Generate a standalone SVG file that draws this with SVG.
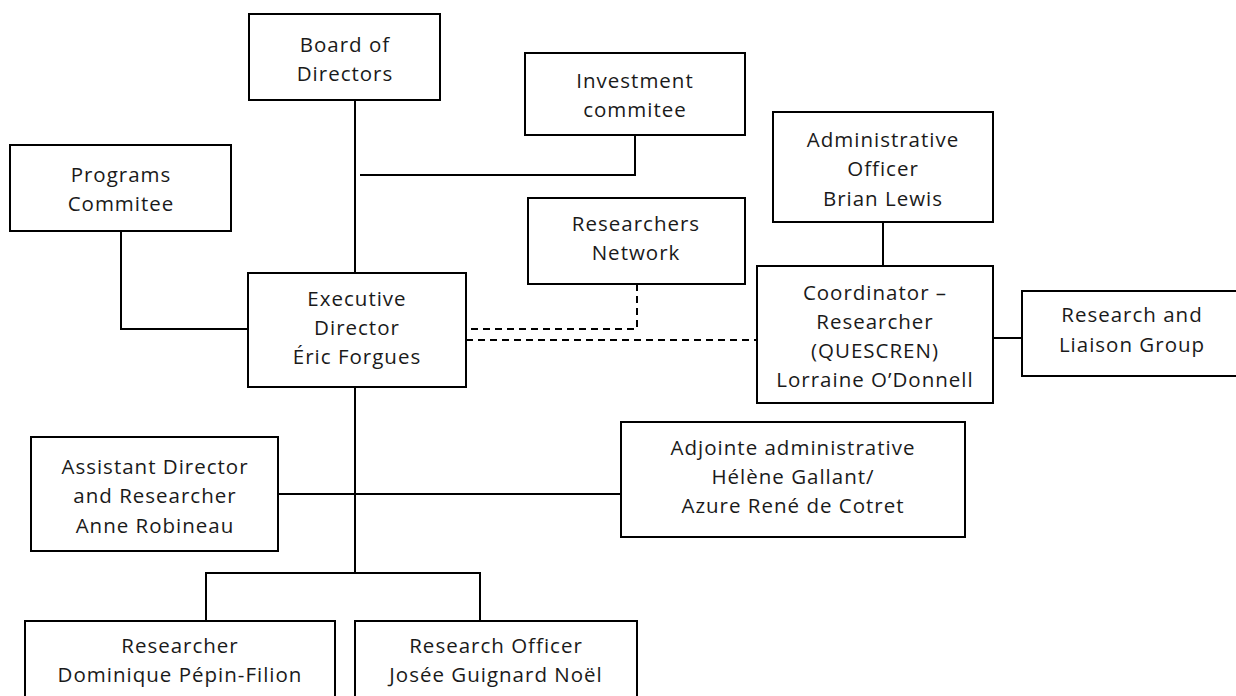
<svg xmlns="http://www.w3.org/2000/svg" width="1236" height="696" viewBox="0 0 1236 696">
<style>
.box{fill:#fff;stroke:#000;stroke-width:2}
.t{font-family:"Open Sans","Liberation Sans",sans-serif;font-size:20.5px;letter-spacing:1px;fill:#1a1a1a;text-anchor:middle}
.c{fill:none;stroke:#000;stroke-width:2}
.d{fill:none;stroke:#000;stroke-width:2;stroke-dasharray:7,5}
</style>
<rect width="1236" height="696" fill="#fff"/>
<g id="connectors">
<path class="c" d="M355,100 V273"/>
<path class="c" d="M635,135 V175 H360"/>
<path class="c" d="M121,231 V329 H248"/>
<path class="d" d="M637,284 V329 H466"/>
<path class="d" d="M466,340 H757"/>
<path class="c" d="M883,222 V266"/>
<path class="c" d="M993,338 H1022"/>
<path class="c" d="M355,387 V573"/>
<path class="c" d="M278,494 H621"/>
<path class="c" d="M206,621 V573 H480 V621"/>
</g>
<g id="board"><rect class="box" x="249" y="14" width="191" height="86"/><text class="t" x="345" y="52">Board of</text><text class="t" x="345" y="81">Directors</text></g>
<g id="investment"><rect class="box" x="525" y="53" width="220" height="82"/><text class="t" x="635" y="88">Investment</text><text class="t" x="635" y="117">commitee</text></g>
<g id="programs"><rect class="box" x="10" y="145" width="221" height="86"/><text class="t" x="121" y="182">Programs</text><text class="t" x="121" y="211">Commitee</text></g>
<g id="executive"><rect class="box" x="248" y="273" width="218" height="114"/><text class="t" x="357" y="306">Executive</text><text class="t" x="357" y="335">Director</text><text class="t" x="357" y="364">Éric Forgues</text></g>
<g id="network"><rect class="box" x="528" y="198" width="217" height="86"/><text class="t" x="636" y="231">Researchers</text><text class="t" x="636" y="260">Network</text></g>
<g id="adminofficer"><rect class="box" x="773" y="112" width="220" height="110"/><text class="t" x="883" y="147">Administrative</text><text class="t" x="883" y="176">Officer</text><text class="t" x="883" y="206">Brian Lewis</text></g>
<g id="coordinator"><rect class="box" x="757" y="266" width="236" height="137"/><text class="t" x="875" y="300">Coordinator –</text><text class="t" x="875" y="329">Researcher</text><text class="t" x="875" y="358">(QUESCREN)</text><text class="t" x="875" y="387">Lorraine O’Donnell</text></g>
<g id="liaison"><rect class="box" x="1022" y="291" width="222" height="85"/><text class="t" x="1132" y="322">Research and</text><text class="t" x="1132" y="352">Liaison Group</text></g>
<g id="assistant"><rect class="box" x="31" y="437" width="247" height="114"/><text class="t" x="155" y="474">Assistant Director</text><text class="t" x="155" y="503">and Researcher</text><text class="t" x="155" y="533">Anne Robineau</text></g>
<g id="adjointe"><rect class="box" x="621" y="422" width="344" height="115"/><text class="t" x="793" y="455">Adjointe administrative</text><text class="t" x="793" y="484">Hélène Gallant/</text><text class="t" x="793" y="513">Azure René de Cotret</text></g>
<g id="researcher"><rect class="box" x="25" y="621" width="310" height="85"/><text class="t" x="180" y="653">Researcher</text><text class="t" x="180" y="682">Dominique Pépin-Filion</text></g>
<g id="officer"><rect class="box" x="355" y="621" width="282" height="85"/><text class="t" x="496" y="653">Research Officer</text><text class="t" x="496" y="682">Josée Guignard Noël</text></g>
</svg>
